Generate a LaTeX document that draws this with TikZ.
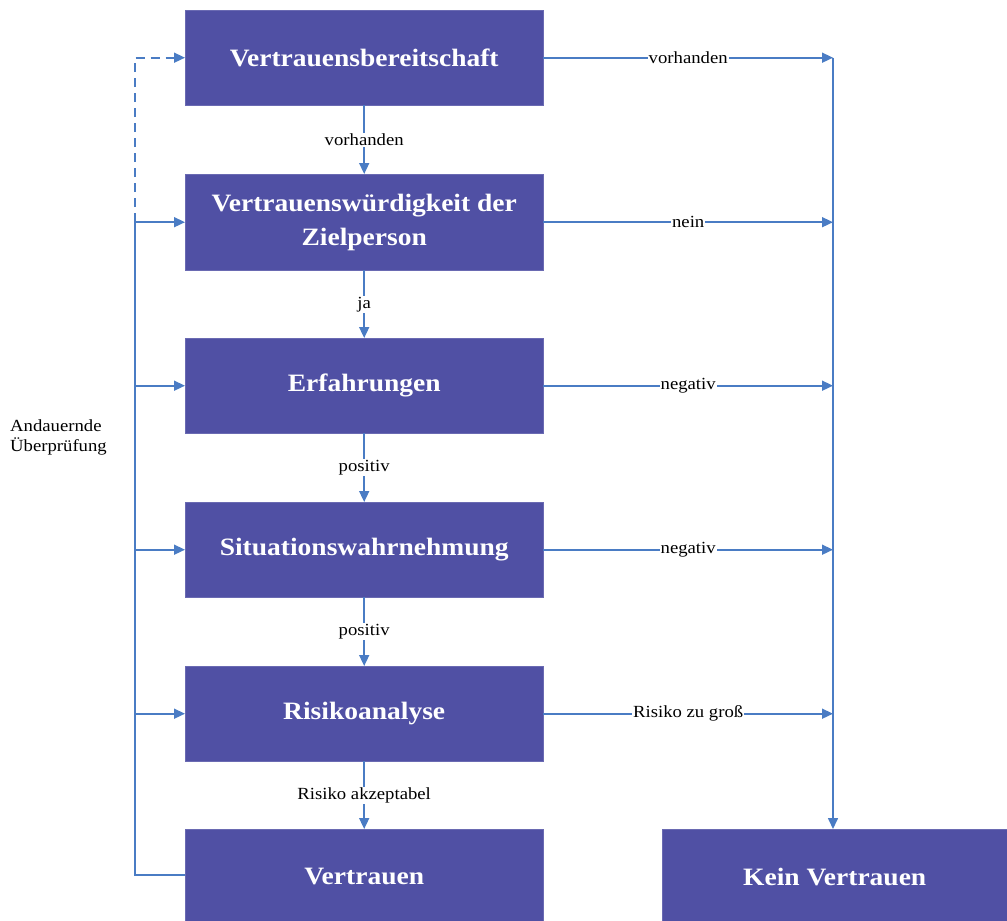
\documentclass[tikz,border=0pt]{standalone}
\usepackage{fontspec}
\setmainfont[FakeStretch=1.1]{Liberation Serif}
\usetikzlibrary{arrows.meta}
\definecolor{boxfill}{RGB}{80,80,164}
\definecolor{linec}{RGB}{74,124,196}
\tikzset{
  stepbox/.style={draw=boxfill!85!white, fill=boxfill, text=white, font=\bfseries\fontsize{25}{34}\selectfont, align=center, anchor=north west, inner sep=0pt},
  conn/.style={draw=linec, line width=1.6pt, -{Triangle[length=11pt,width=10pt]}},
  plain/.style={draw=linec, line width=1.6pt},
  lbl/.style={fill=white, text=black, font=\fontsize{17}{20}\selectfont, inner sep=1pt}
}
\begin{document}
\begin{tikzpicture}[x=1pt,y=-1pt]
\useasboundingbox (0,0) rectangle (1007,921);
\node[stepbox, minimum width=358pt, minimum height=95pt] (b1) at (185,10) {Vertrauensbereitschaft};
\node[stepbox, minimum width=358pt, minimum height=96pt] (b2) at (185,174) {Vertrauenswürdigkeit der\\Zielperson};
\node[stepbox, minimum width=358pt, minimum height=95pt] (b3) at (185,338) {Erfahrungen};
\node[stepbox, minimum width=358pt, minimum height=95pt] (b4) at (185,502) {Situationswahrnehmung};
\node[stepbox, minimum width=358pt, minimum height=95pt] (b5) at (185,666) {Risikoanalyse};
\node[stepbox, minimum width=358pt, minimum height=95pt] (b6) at (185,829) {Vertrauen};
\node[stepbox, minimum width=345pt, minimum height=95pt] (k) at (662,829) {Kein Vertrauen};

\node[align=left, anchor=north west, font=\fontsize{17}{20}\selectfont, inner sep=0pt] (lab) at (10,419) {Andauernde\\Überprüfung};

% vertical down arrows
\draw[conn] (b1.south) -- node[lbl]{vorhanden} (b2.north);
\draw[conn] (b2.south) -- node[lbl]{ja} (b3.north);
\draw[conn] (b3.south) -- node[lbl]{positiv} (b4.north);
\draw[conn] (b4.south) -- node[lbl]{positiv} (b5.north);
\draw[conn] (b5.south) -- node[lbl]{Risiko akzeptabel} (b6.north);

% right side
\coordinate (rx) at (833,0);
\draw[conn] (b1.east) -- node[lbl]{vorhanden} (b1.east -| rx) coordinate (r1);
\draw[conn] (b2.east) -- node[lbl]{nein} (b2.east -| rx);
\draw[conn] (b3.east) -- node[lbl]{negativ} (b3.east -| rx);
\draw[conn] (b4.east) -- node[lbl]{negativ} (b4.east -| rx);
\draw[conn] (b5.east) -- node[lbl]{Risiko zu groß} (b5.east -| rx);
\draw[conn] (r1) -- (k.north -| r1);

% left feedback
\coordinate (lx) at (135,0);
\coordinate (l6) at (135,875);
\draw[plain] (b6.west |- l6) -- (l6) -- (b2.west -| lx);
\draw[conn] (b2.west -| lx) -- (b2.west);
\draw[conn] (b3.west -| lx) -- (b3.west);
\draw[conn] (b4.west -| lx) -- (b4.west);
\draw[conn] (b5.west -| lx) -- (b5.west);
\draw[conn, dash pattern=on 9pt off 6pt] (b2.west -| lx) -- (b1.west -| lx) -- (b1.west);
\end{tikzpicture}
\end{document}
